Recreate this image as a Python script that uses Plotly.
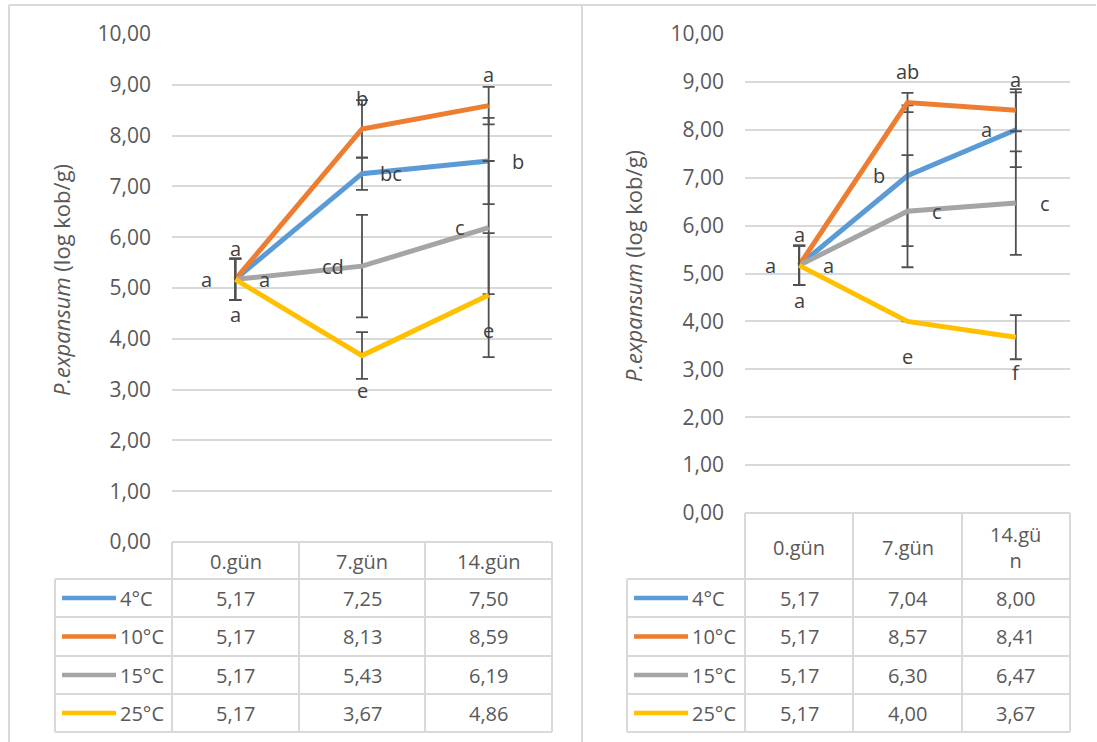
import plotly.graph_objects as go

W, H = 1097, 742

# ---------------- data ----------------
days = ["0.gün", "7.gün", "14.gün"]
series_names = ["4°C", "10°C", "15°C", "25°C"]

# Left chart
A_4C = [5.17, 7.25, 7.50]
A_10C = [5.17, 8.13, 8.59]
A_15C = [5.17, 5.43, 6.19]
A_25C = [5.17, 3.67, 4.86]
A_err_4C = [0.41, 0.32, 0.85]
A_err_10C = [0.41, 0.57, 0.37]
A_err_15C = [0.41, 1.01, 1.31]
A_err_25C = [0.41, 0.46, 1.22]
A_lbl_4C = ["a", "bc", "b"]
A_lbl_10C = ["a", "b", "a"]
A_lbl_15C = ["a", "cd", "c"]
A_lbl_25C = ["a", "e", "e"]

# Right chart
B_4C = [5.17, 7.04, 8.00]
B_10C = [5.17, 8.57, 8.41]
B_15C = [5.17, 6.30, 6.47]
B_25C = [5.17, 4.00, 3.67]
B_err_4C = [0.41, 1.47, 0.78]
B_err_10C = [0.41, 0.20, 0.44]
B_err_15C = [0.41, 1.17, 1.08]
B_err_25C = [0.41, 0.0, 0.46]
B_lbl_4C = ["a", "b", "a"]
B_lbl_10C = ["a", "ab", "a"]
B_lbl_15C = ["a", "c", "c"]
B_lbl_25C = ["a", "e", "f"]

# ---------------- style ----------------
colors = ["#5B9BD5", "#ED7D31", "#A5A5A5", "#FFC000"]
FONT = "Open Sans"
TXT = "#595959"
LBL = "#404040"
GRID = "#D9D9D9"
ERRC = "#505050"
FS = 20
FS_TICK = 21
FS_TITLE = 22

A_pos = ["right", "above", "left", "below"]
B_pos = ["left", "above", "right", "below"]
shift = {"above": (0, 31), "below": (0, -35), "left": (-29, 0), "right": (29, 0)}


def px(x):
    return x / W


def py(y):
    return 1 - y / H


fig = go.Figure()

panels = [
    dict(vals=[A_4C, A_10C, A_15C, A_25C], errs=[A_err_4C, A_err_10C, A_err_15C, A_err_25C],
         lbls=[A_lbl_4C, A_lbl_10C, A_lbl_15C, A_lbl_25C], pos=A_pos, xa="x", ya="y",
         title_xy=(61, 280),
         cols=[55, 172, 299, 425, 552], head_top=542, head_y=561, head_txt=days),
    dict(vals=[B_4C, B_10C, B_15C, B_25C], errs=[B_err_4C, B_err_10C, B_err_15C, B_err_25C],
         lbls=[B_lbl_4C, B_lbl_10C, B_lbl_15C, B_lbl_25C], pos=B_pos, xa="x2", ya="y2",
         title_xy=(633, 266),
         cols=[627, 745, 853, 962, 1070], head_top=513, head_y=547,
         head_txt=["0.gün", "7.gün", "14.gü<br>n"]),
]

rows = [579, 617, 656, 694, 732]
shapes = []
annotations = []


def hline(x0, x1, y, color=GRID, width=2):
    shapes.append(dict(type="line", xref="paper", yref="paper", x0=px(x0), x1=px(x1),
                       y0=py(y), y1=py(y), line=dict(color=color, width=width)))


def vline(x, y0, y1, color=GRID, width=2):
    shapes.append(dict(type="line", xref="paper", yref="paper", x0=px(x), x1=px(x),
                       y0=py(y0), y1=py(y1), line=dict(color=color, width=width)))


def text(x, y, t, anchor="center", color=TXT, size=FS, angle=0):
    annotations.append(dict(x=px(x), y=py(y), xref="paper", yref="paper", text=t,
                            showarrow=False, xanchor=anchor, yanchor="middle",
                            textangle=angle,
                            font=dict(family=FONT, size=size, color=color)))


for p in panels:
    for i, name in enumerate(series_names):
        fig.add_trace(go.Scatter(
            x=days, y=p["vals"][i], mode="lines", name=name, showlegend=False,
            line=dict(color=colors[i], width=5),
            error_y=dict(type="data", array=p["errs"][i], visible=True,
                         color=ERRC, thickness=1.8, width=6),
            xaxis=p["xa"], yaxis=p["ya"], hoverinfo="skip"))
        for j, d in enumerate(days):
            dx, dy = shift[p["pos"][i]]
            annotations.append(dict(
                x=d, y=p["vals"][i][j], xref=p["xa"], yref=p["ya"], text=p["lbls"][i][j],
                showarrow=False, xshift=dx, yshift=dy, xanchor="center", yanchor="middle",
                font=dict(family=FONT, size=FS, color=LBL)))
    tx, ty = p["title_xy"]
    text(tx, ty, "<i>P.expansum</i> (log kob/g)", angle=-90, size=FS_TITLE)
    c = p["cols"]
    hline(c[1], c[4], p["head_top"])
    for r in rows:
        hline(c[0], c[4], r)
    vline(c[0], rows[0], rows[-1])
    for cx in c[1:]:
        vline(cx, p["head_top"], rows[-1])
    for k, t in enumerate(p["head_txt"]):
        text((c[k + 1] + c[k + 2]) / 2, p["head_y"], t)
    for i, name in enumerate(series_names):
        yc = (rows[i] + rows[i + 1]) / 2
        hline(c[0] + 7, c[0] + 61, yc, color=colors[i], width=4.5)
        text(c[0] + 63, yc, name, anchor="left")
        for k in range(3):
            text((c[k + 1] + c[k + 2]) / 2, yc, f"{p['vals'][i][k]:.2f}".replace(".", ","))

# panel frames
hline(9, 1096, 5)
vline(9, 5, 742)
vline(582, 5, 742)

xax = dict(type="category", range=[-0.5, 2.5], showticklabels=False, showgrid=False,
           zeroline=False, showline=False, automargin=False, fixedrange=True)
yax = dict(range=[0, 10], dtick=1, tickformat=".2f", showgrid=True, gridcolor=GRID,
           gridwidth=1.5, zeroline=False, showline=False, ticks="", ticklabelstandoff=20,
           automargin=False, fixedrange=True,
           tickfont=dict(family=FONT, size=FS_TICK, color=TXT))

fig.update_layout(
    template="none",
    autosize=False,
    width=W, height=H, margin=dict(l=0, r=0, t=0, b=0, pad=0, autoexpand=False),
    paper_bgcolor="white", plot_bgcolor="white", separators=",.",
    showlegend=False,
    xaxis=dict(xax, domain=[px(172), px(552)], anchor="y"),
    yaxis=dict(yax, domain=[py(542), py(34)], anchor="x"),
    xaxis2=dict(xax, domain=[px(745), px(1070)], anchor="y2"),
    yaxis2=dict(yax, domain=[py(513), py(34)], anchor="x2"),
    shapes=shapes, annotations=annotations,
    font=dict(family=FONT, color=TXT),
)

fig.write_html("out.html", config={"displayModeBar": False})
